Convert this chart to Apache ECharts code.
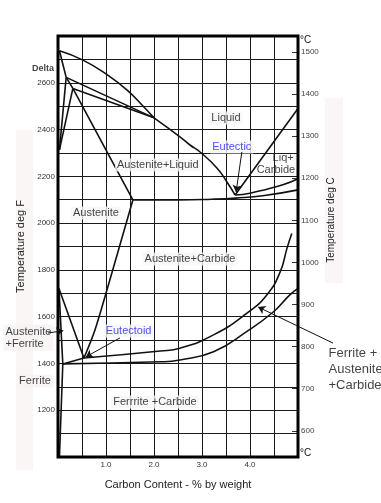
<!DOCTYPE html>
<html><head><meta charset="utf-8">
<script src="https://cdn.jsdelivr.net/npm/echarts@6/dist/echarts.min.js"></script>
<style>html,body{margin:0;padding:0;background:#fff}#c{width:381px;height:503px}</style>
</head><body><div id="c"></div>
<script>
// ---- axis ticks ----
const carbonTicks = [1.0, 2.0, 3.0, 4.0];
const fahrenheitTicks = [1200, 1400, 1600, 1800, 2000, 2200, 2400, 2600];
const celsiusTicks = [600, 700, 800, 900, 1000, 1100, 1200, 1300, 1400, 1500];

// ---- phase boundaries: [carbon %, temperature deg F] ----
const liquidusDelta = [[0.03,2737],[0.52,2697],[1.02,2635],[1.44,2569],[1.77,2501],[2.0,2450]];
const liquidusAustenite = [[2.0,2450],[2.54,2369],[2.75,2334],[2.96,2304],[3.31,2236],[3.52,2176],[3.69,2120]];
const liquidusCarbide = [[3.69,2120],[5.0,2490]];
const deltaSolidus = [[0.03,2737],[0.17,2623]];
const peritectic = [[0.17,2623],[0.31,2576]];
const peritecticUpper = [[0.17,2623],[2.0,2450]];
const peritecticLower = [[0.31,2576],[2.0,2450]];
const deltaGammaA = [[0.03,2313],[0.17,2623]];
const deltaGammaB = [[0.03,2313],[0.31,2576]];
const austeniteSolidus = [[0.31,2576],[1.08,2282],[1.56,2099]];
const eutecticLower = [[1.56,2099],[2.5,2099],[3.2,2102],[3.7,2107],[4.3,2118],[5.0,2142]];
const eutecticUpper = [[3.69,2120],[4.0,2128],[4.35,2145],[4.7,2165],[5.0,2190]];
const a3Line = [[0.02,1720],[0.54,1423]];
const acmLine = [[1.56,2099],[1.08,1757],[0.77,1543],[0.54,1423]];
const ferriteSolvus = [[0.02,1720],[0.10,1398],[0.03,1000]];
const eutectoidLeft = [[0.10,1398],[0.54,1423]];
const eutectoidUpper = [[0.54,1423],[2.13,1453],[2.54,1465],[3.24,1522],[3.93,1614],[4.35,1693],[4.63,1792],[4.77,1892],[4.87,1956]];
const eutectoidLower = [[0.10,1398],[2.13,1407],[2.54,1415],[3.24,1450],[3.93,1536],[4.49,1621],[4.83,1693],[5.0,1721]];

const FONT = "'Liberation Sans', Arial, sans-serif";
const F2C = f => (f - 32) * 5 / 9;

const boundaries = [
  [liquidusDelta, true], [liquidusAustenite, true], [liquidusCarbide, false],
  [deltaSolidus, false], [peritectic, false], [peritecticUpper, false], [peritecticLower, false],
  [deltaGammaA, false], [deltaGammaB, false], [austeniteSolidus, false],
  [eutecticLower, true], [eutecticUpper, true], [a3Line, false], [acmLine, 0.3],
  [ferriteSolvus, false], [eutectoidLeft, false], [eutectoidUpper, true], [eutectoidLower, true]
];

// ---- annotations (anchor in data coords) ----
const plotLabels = [
  {t:'Liquid', at:[3.5,2449]},
  {t:'Austenite+Liquid', at:[2.08,2248]},
  {t:'Austenite', at:[0.79,2043]},
  {t:'Austenite+Carbide', at:[2.75,1847]},
  {t:'Ferrrite +Carbide', at:[2.02,1235]},
  {t:'Liq+', at:[4.69,2278], bg:'transparent'},
  {t:'Carbide', at:[4.54,2227], bg:'transparent'},
  {t:'Eutectic', at:[3.62,2325], blue:true},
  {t:'Eutectoid', at:[1.47,1539], blue:true}
];
const outsideLabels = [
  {t:'Delta', at:[-0.31,2663], bold:true, size:9},
  {t:'Austenite\n+Ferrite', at:[-1.146,1510], left:true, lh:12, size:11},
  {t:'Ferrite', at:[-0.48,1325], size:11},
  {t:'Ferrite +\nAustenite\n+Carbide', at:[5.583,1376], left:true, lh:16, size:13, bg:'transparent'}
];
const arrows = [
  [[3.83,2304],[3.71,2133]],
  [[1.29,1509],[0.58,1428]],
  [[5.73,1487],[4.17,1641]],
  [[-0.21,1530],[0.11,1540]]
];

const series = boundaries.map(([d, sm]) => ({
  type: 'line', data: d, smooth: sm, symbol: 'none', silent: true, z: 3,
  lineStyle: {color: '#111', width: 1.6}
}));

series.push({
  type: 'scatter', silent: true, clip: false, z: 5, symbolSize: 1,
  itemStyle: {color: 'rgba(0,0,0,0)'},
  data: plotLabels.map(l => ({
    value: l.at,
    label: {
      show: true, position: 'inside', formatter: l.t, fontFamily: FONT,
      fontSize: 11, color: l.blue ? '#2424f0' : '#111',
      backgroundColor: l.bg || '#f8f6f6', padding: [1, 2]
    }
  }))
});
series.push({
  type: 'scatter', silent: true, clip: false, z: 5, symbolSize: 1,
  itemStyle: {color: 'rgba(0,0,0,0)'},
  data: outsideLabels.map(l => ({
    value: l.at,
    label: {
      show: true, position: l.left ? 'right' : 'inside', distance: 0,
      align: l.left ? 'left' : 'center',
      formatter: l.t, fontFamily: FONT, fontSize: l.size, lineHeight: l.lh || undefined,
      fontWeight: l.bold ? 'bold' : 'normal', color: '#111',
      backgroundColor: l.bg || (l.bold ? 'transparent' : '#f8f3f3'), padding: [1, 2]
    }
  }))
});
series.push({
  type: 'lines', coordinateSystem: 'cartesian2d', silent: true, clip: false, z: 6,
  symbol: ['none', 'arrow'], symbolSize: [4, 7],
  lineStyle: {color: '#111', width: 1, opacity: 1},
  data: arrows.map(a => ({coords: a}))
});

const chart = echarts.init(document.getElementById('c'), null, {renderer: 'canvas'});
chart.setOption({
  animation: false,
  backgroundColor: '#fff',
  textStyle: {fontFamily: FONT},
  grid: {left: 58, right: 83, top: 36, bottom: 46, show: true, borderColor: '#000', borderWidth: 3, z: 4},
  xAxis: {
    type: 'value', min: 0, max: 5, interval: 0.5,
    axisLine: {show: false}, axisTick: {show: false},
    splitLine: {show: true, lineStyle: {color: '#1a1a1a', width: 1}},
    axisLabel: {customValues: carbonTicks, formatter: v => v.toFixed(1), fontSize: 8, color: '#333', margin: 4, fontFamily: FONT},
    name: 'Carbon Content - % by weight', nameLocation: 'middle', nameGap: 22,
    nameTextStyle: {fontSize: 11, color: '#222', fontFamily: FONT}
  },
  yAxis: [{
    type: 'value', min: 1000, max: 2800, interval: 100,
    axisLine: {show: false}, axisTick: {show: false},
    splitLine: {show: true, lineStyle: {color: '#1a1a1a', width: 1}},
    axisLabel: {customValues: fahrenheitTicks, formatter: v => String(Math.round(v)), fontSize: 8, color: '#333', margin: 3, fontFamily: FONT},
    name: 'Temperature deg F', nameLocation: 'middle', nameGap: 30,
    nameTextStyle: {fontSize: 11, color: '#222', fontFamily: FONT}
  }, {
    type: 'value', position: 'right', min: F2C(1000), max: F2C(2800), alignTicks: false,
    axisLine: {show: false}, splitLine: {show: false},
    axisTick: {show: true, inside: true, length: 6, customValues: celsiusTicks, lineStyle: {color: '#333'}},
    axisLabel: {customValues: celsiusTicks, formatter: v => String(Math.round(v)), fontSize: 8, color: '#444', margin: 3, fontFamily: FONT}
  }],
  graphic: [
    {type: 'rect', z: -10, shape: {x: 16, y: 130, width: 17, height: 340}, style: {fill: '#faf6f6'}},
    {type: 'rect', z: -10, shape: {x: 325, y: 98, width: 18, height: 185}, style: {fill: '#faf6f6'}},
    {type: 'text', x: 331, y: 220, rotation: Math.PI / 2, style: {text: 'Temperature deg C', font: '10px ' + FONT, fill: '#222', align: 'center', verticalAlign: 'middle'}},
    {type: 'text', x: 300, y: 40, style: {text: '°C', font: '10px ' + FONT, fill: '#111', verticalAlign: 'middle'}},
    {type: 'text', x: 300, y: 453, style: {text: '°C', font: '10px ' + FONT, fill: '#111', verticalAlign: 'middle'}}
  ],
  series: series
});
</script></body></html>
